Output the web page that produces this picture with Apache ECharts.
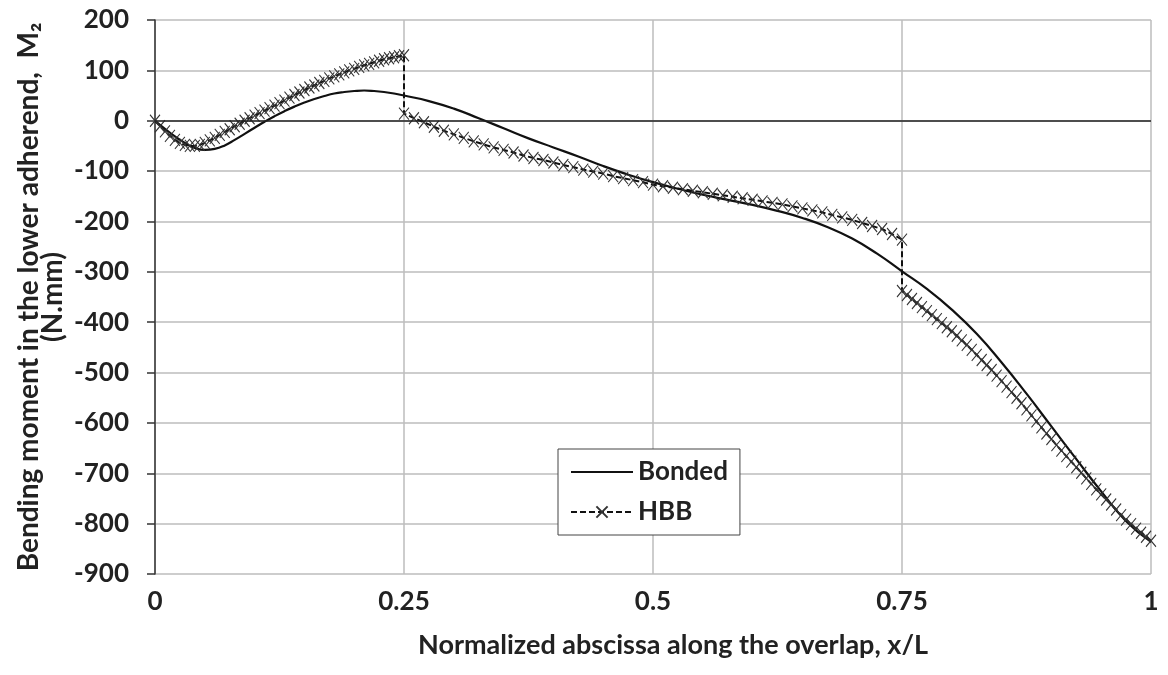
<!DOCTYPE html>
<html>
<head>
<meta charset="utf-8">
<script src="https://cdn.jsdelivr.net/npm/echarts@6/dist/echarts.min.js"></script>
<style>
  html, body { margin: 0; padding: 0; background: #fff; }
</style>
</head>
<body>
<div id="chart" style="width: 1168px;height:675px;"></div>
<script>
// x/L ticks and M2 ticks
var xTicks = [0, 0.25, 0.5, 0.75, 1]
var yMin = -900
var yMax = 200

// Bonded: [x/L, M2]
var bonded = [
  [0, 0], [0.01, -16], [0.02, -31], [0.03, -44], [0.04, -54], [0.05, -58],
  [0.06, -56], [0.07, -49], [0.08, -38], [0.09, -26], [0.1, -14], [0.11, -2],
  [0.12, 9], [0.13, 19], [0.14, 28], [0.15, 36], [0.16, 43], [0.17, 49],
  [0.18, 54], [0.19, 57], [0.2, 59], [0.21, 60], [0.22, 59], [0.23, 57],
  [0.24, 54], [0.25, 50], [0.275, 39], [0.3, 24], [0.325, 5], [0.35, -15],
  [0.375, -35], [0.4, -53], [0.425, -71], [0.45, -90], [0.475, -107], [0.5, -122],
  [0.525, -135], [0.55, -147], [0.575, -157], [0.6, -167], [0.625, -179], [0.65, -193],
  [0.675, -211], [0.7, -234], [0.725, -264], [0.75, -299], [0.775, -334], [0.8, -375],
  [0.825, -423], [0.85, -480], [0.875, -542], [0.9, -607], [0.925, -672], [0.95, -736],
  [0.975, -795], [1, -836]
]

// HBB, first bonded zone 0 - 0.25
var hbbZone1 = [
  [0, 0], [0.005, -11], [0.01, -21], [0.015, -30], [0.02, -38], [0.025, -44],
  [0.03, -48], [0.035, -50], [0.04, -50], [0.045, -48], [0.05, -44], [0.055, -39],
  [0.06, -34], [0.065, -28], [0.07, -22], [0.075, -17], [0.08, -11], [0.085, -6],
  [0.09, 0], [0.095, 5], [0.1, 10], [0.105, 15], [0.11, 20], [0.115, 25],
  [0.12, 30], [0.125, 35], [0.13, 40], [0.135, 46], [0.14, 51], [0.145, 56],
  [0.15, 61], [0.155, 66], [0.16, 70], [0.165, 75], [0.17, 79], [0.175, 84],
  [0.18, 88], [0.185, 92], [0.19, 96], [0.195, 100], [0.2, 103], [0.205, 107],
  [0.21, 110], [0.215, 113], [0.22, 116], [0.225, 119], [0.23, 122], [0.235, 124],
  [0.24, 126], [0.245, 128], [0.25, 130]
]

// HBB, middle zone 0.25 - 0.75
var hbbZone2 = [
  [0.25, 14], [0.26, 5], [0.27, -3], [0.28, -12], [0.29, -20], [0.3, -27],
  [0.31, -34], [0.32, -41], [0.33, -47], [0.34, -53], [0.35, -58], [0.36, -63],
  [0.37, -69], [0.38, -74], [0.39, -78], [0.4, -83], [0.41, -88], [0.42, -92],
  [0.43, -97], [0.44, -101], [0.45, -105], [0.46, -110], [0.47, -114], [0.48, -118],
  [0.49, -122], [0.5, -127], [0.51, -130], [0.52, -133], [0.53, -136], [0.54, -139],
  [0.55, -142], [0.56, -145], [0.57, -148], [0.58, -151], [0.59, -154], [0.6, -157],
  [0.61, -160], [0.62, -163], [0.63, -166], [0.64, -170], [0.65, -174], [0.66, -178],
  [0.67, -182], [0.68, -187], [0.69, -192], [0.7, -197], [0.71, -203], [0.72, -209],
  [0.73, -215], [0.74, -225], [0.75, -236]
]

// HBB, last bonded zone 0.75 - 1
var hbbZone3 = [
  [0.75, -338], [0.755, -346], [0.76, -354], [0.765, -362], [0.77, -370], [0.775, -378],
  [0.78, -386], [0.785, -394], [0.79, -402], [0.795, -410], [0.8, -418], [0.805, -427],
  [0.81, -436], [0.815, -445], [0.82, -455], [0.825, -465], [0.83, -475], [0.835, -485],
  [0.84, -495], [0.845, -506], [0.85, -517], [0.855, -528], [0.86, -539], [0.865, -550],
  [0.87, -561], [0.875, -573], [0.88, -585], [0.885, -597], [0.89, -609], [0.895, -621],
  [0.9, -632], [0.905, -644], [0.91, -655], [0.915, -666], [0.92, -677], [0.925, -688],
  [0.93, -699], [0.935, -710], [0.94, -721], [0.945, -732], [0.95, -742], [0.955, -752],
  [0.96, -762], [0.965, -772], [0.97, -783], [0.975, -792], [0.98, -801], [0.985, -810],
  [0.99, -818], [0.995, -826], [1, -834]
]

var FONT = 'Lato, "Open Sans", sans-serif'
var xSymbol = 'path://M0,0L10,12M10,0L0,12'

var option = {
  animation: false,
  backgroundColor: '#fff',
  grid: {
    left: 155,
    right: 17,
    top: 20,
    bottom: 101
  },
  legend: {
    orient: 'vertical',
    left: 558,
    top: 449,
    backgroundColor: '#fff',
    borderColor: '#444',
    borderWidth: 1,
    borderRadius: 0,
    padding: [10, 12, 10, 12],
    itemWidth: 62,
    itemHeight: 14,
    itemGap: 14,
    textStyle: {
      color: '#222',
      fontFamily: FONT,
      fontWeight: 'bold',
      fontSize: 26
    },
    data: [
      { name: 'Bonded', itemStyle: { opacity: 0 } },
      'HBB'
    ]
  },
  xAxis: {
    type: 'value',
    min: 0,
    max: 1,
    interval: 0.25,
    name: 'Normalized abscissa along the overlap, x/L',
    nameLocation: 'middle',
    nameGap: 58,
    nameMoveOverlap: false,
    nameTextStyle: {
      color: '#222',
      fontFamily: FONT,
      fontWeight: 'bold',
      fontSize: 27,
      padding: [0, 0, 0, 40]
    },
    axisLine: { show: false },
    axisTick: { show: false },
    axisLabel: {
      margin: 15,
      color: '#222',
      fontFamily: FONT,
      fontWeight: 'bold',
      fontSize: 26,
      formatter: function (v) {
        return xTicks.indexOf(v) >= 0 ? String(v) : ''
      }
    },
    splitLine: {
      show: true,
      lineStyle: { color: '#bcbcbc', width: 1.5 }
    }
  },
  yAxis: {
    type: 'value',
    min: yMin,
    max: yMax,
    interval: 100,
    name: 'Bending moment in the lower adherend,  M\u2082\n(N.mm)',
    nameLocation: 'middle',
    nameRotate: 90,
    nameGap: 90,
    nameMoveOverlap: false,
    nameTextStyle: {
      color: '#222',
      fontFamily: FONT,
      fontWeight: 'bold',
      fontSize: 28,
      lineHeight: 24
    },
    axisLine: {
      show: true,
      onZero: false,
      lineStyle: { color: '#333', width: 1.5 }
    },
    axisTick: {
      show: true,
      inside: false,
      length: 8,
      lineStyle: { color: '#333', width: 1.5 }
    },
    axisLabel: {
      margin: 26,
      color: '#222',
      fontFamily: FONT,
      fontWeight: 'bold',
      fontSize: 26
    },
    splitLine: {
      show: true,
      lineStyle: { color: '#bcbcbc', width: 1.5 }
    }
  },
  series: [
    {
      name: 'Bonded',
      type: 'line',
      data: bonded,
      smooth: true,
      showSymbol: false,
      symbol: 'none',
      z: 3,
      lineStyle: { color: '#111', width: 2.2, type: 'solid' },
      itemStyle: { color: '#111' },
      markLine: {
        silent: true,
        symbol: 'none',
        label: { show: false },
        lineStyle: { color: '#222', width: 1.5, type: 'solid' },
        data: [{ yAxis: 0 }]
      }
    },
    {
      name: 'HBB',
      type: 'line',
      data: hbbZone1.concat(hbbZone2, hbbZone3),
      symbol: xSymbol,
      symbolSize: [10, 12],
      showAllSymbol: true,
      z: 4,
      lineStyle: { color: '#111', width: 2, type: [6, 3] },
      itemStyle: { color: 'rgba(0,0,0,0)', borderColor: '#333', borderWidth: 1.1 }
    }
  ]
}

var myChart = echarts.init(document.getElementById('chart'))
myChart.setOption(option)
</script>
</body>
</html>
